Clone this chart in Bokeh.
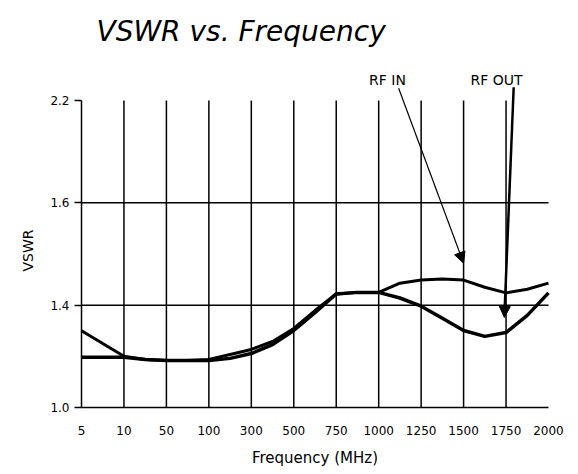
import numpy as np
from bokeh.plotting import figure
from bokeh.models import FixedTicker, Label, Arrow, NormalHead
from bokeh.embed import file_html
from bokeh.resources import INLINE

# ---- data ----
freq_labels = ["5", "10", "50", "100", "300", "500", "750", "1000", "1250", "1500", "1750", "2000"]
vswr_ticks = [1.0, 1.4, 1.6, 2.2]
vswr_tick_labels = ["1.0", "1.4", "1.6", "2.2"]

# positions along the (evenly spaced) frequency axis, in tick-index units
pos = [0, 0.5, 1, 1.5, 2, 2.5, 3, 3.5, 4, 4.5, 5, 5.5, 6, 6.5, 7, 7.5, 8, 8.5, 9, 9.5, 10, 10.5, 11]
rf_in = [1.30, 1.25, 1.20, 1.188, 1.184, 1.184, 1.188, 1.207, 1.227, 1.258, 1.309, 1.379,
         1.422, 1.425, 1.425, 1.443, 1.449, 1.451, 1.449, 1.435, 1.424, 1.431, 1.443]
rf_out = [1.196, 1.196, 1.196, 1.188, 1.184, 1.184, 1.184, 1.192, 1.211, 1.246, 1.301, 1.371,
          1.422, 1.425, 1.425, 1.414, 1.396, 1.349, 1.301, 1.278, 1.293, 1.360, 1.424]

# annotation arrows (x in tick-index units, y in VSWR-axis index units)
rf_in_arrow = dict(x0=7.47, y0=3.12, x1=9.0, y1=1.41)
rf_out_arrow = dict(x0=10.18, y0=3.13, x1=9.96, y1=0.88)

# the VSWR axis is piecewise (evenly spaced ticks 1.0, 1.4, 1.6, 2.2)
tick_idx = list(range(len(vswr_ticks)))
def vs(v):
    return np.interp(np.asarray(v, dtype=float), vswr_ticks, tick_idx)

# ---- layout (pixels) ----
W, H = 570, 470
AX_LEFT, AX_RIGHT, AX_BOTTOM, AX_TOP = 81, 548, 407, 100
n_x = len(freq_labels) - 1
y_top = tick_idx[-1]
kx = (AX_RIGHT - AX_LEFT) / n_x
ky = (AX_BOTTOM - AX_TOP) / y_top
def dx(px):
    return (px - AX_LEFT) / kx
def dy(py):
    return (AX_BOTTOM - py) / ky

FONT = "DejaVu Sans"

p = figure(frame_width=W, frame_height=H, min_border=0,
           x_range=(dx(0), dx(W)), y_range=(dy(H), dy(0)),
           output_backend="svg", toolbar_location=None, tools="")
p.outline_line_color = None
p.background_fill_color = "white"
p.border_fill_color = "white"
p.xgrid.visible = False
p.ygrid.visible = False

# axes drawn at the data origin
p.xaxis.fixed_location = 0
p.yaxis.fixed_location = 0
p.xaxis.bounds = (0, n_x)
p.yaxis.bounds = (0, y_top)
p.xaxis.ticker = FixedTicker(ticks=list(range(len(freq_labels))))
p.xaxis.major_label_overrides = {i: t for i, t in enumerate(freq_labels)}
p.yaxis.ticker = FixedTicker(ticks=tick_idx)
p.yaxis.major_label_overrides = {i: t for i, t in enumerate(vswr_tick_labels)}
for ax in (p.xaxis, p.yaxis):
    ax.axis_line_color = "black"
    ax.axis_line_width = 1.5
    ax.major_tick_line_color = "black"
    ax.major_tick_line_width = 1.5
    ax.minor_tick_line_color = None
    ax.major_tick_in = 0
    ax.major_label_text_font = FONT
    ax.major_label_text_font_size = "12px"
    ax.major_label_text_color = "black"
p.xaxis.major_tick_out = 0
p.xaxis.major_label_standoff = 18
p.yaxis.major_tick_out = 7
p.yaxis.major_label_standoff = 5

# grid lines (only within the chart area)
gx = list(range(1, n_x))
p.segment(x0=gx, y0=[0] * len(gx), x1=gx, y1=[y_top] * len(gx), line_color="black", line_width=1.5)
gy = tick_idx[1:-1]
p.segment(x0=[0] * len(gy), y0=gy, x1=[n_x] * len(gy), y1=gy, line_color="black", line_width=1.5)

# curves
p.line(pos, vs(rf_out), line_color="black", line_width=3.5, line_join="round")
p.line(pos, vs(rf_in), line_color="black", line_width=3, line_join="round")

# texts
p.add_layout(Label(x=dx(96), y=dy(31), text="VSWR vs. Frequency", text_font=FONT,
                   text_font_size="28px", text_font_style="italic", text_color="black",
                   text_align="left", text_baseline="alphabetic"))
p.add_layout(Label(x=dx(387), y=dy(79), text="RF IN", text_font=FONT, text_font_size="14px",
                   text_color="black", text_align="center", text_baseline="alphabetic"))
p.add_layout(Label(x=dx(496), y=dy(79), text="RF OUT", text_font=FONT, text_font_size="14px",
                   text_color="black", text_align="center", text_baseline="alphabetic"))
p.add_layout(Label(x=dx((AX_LEFT + AX_RIGHT) / 2), y=dy(457), text="Frequency (MHz)",
                   text_font=FONT, text_font_size="15px", text_color="black",
                   text_align="center", text_baseline="middle"))
p.add_layout(Label(x=dx(27), y=dy(250), text="VSWR", angle=np.pi / 2,
                   text_font=FONT, text_font_size="14px", text_color="black",
                   text_align="center", text_baseline="middle"))

p.add_layout(Arrow(end=NormalHead(size=11, fill_color="black", line_color="black"),
                   x_start=rf_in_arrow["x0"], y_start=rf_in_arrow["y0"],
                   x_end=rf_in_arrow["x1"], y_end=rf_in_arrow["y1"],
                   line_width=1.2, line_color="black"))
p.add_layout(Arrow(end=NormalHead(size=11, fill_color="black", line_color="black"),
                   x_start=rf_out_arrow["x0"], y_start=rf_out_arrow["y0"],
                   x_end=rf_out_arrow["x1"], y_end=rf_out_arrow["y1"],
                   line_width=2.5, line_color="black"))

open("out.html", "w").write(file_html(p, INLINE))
